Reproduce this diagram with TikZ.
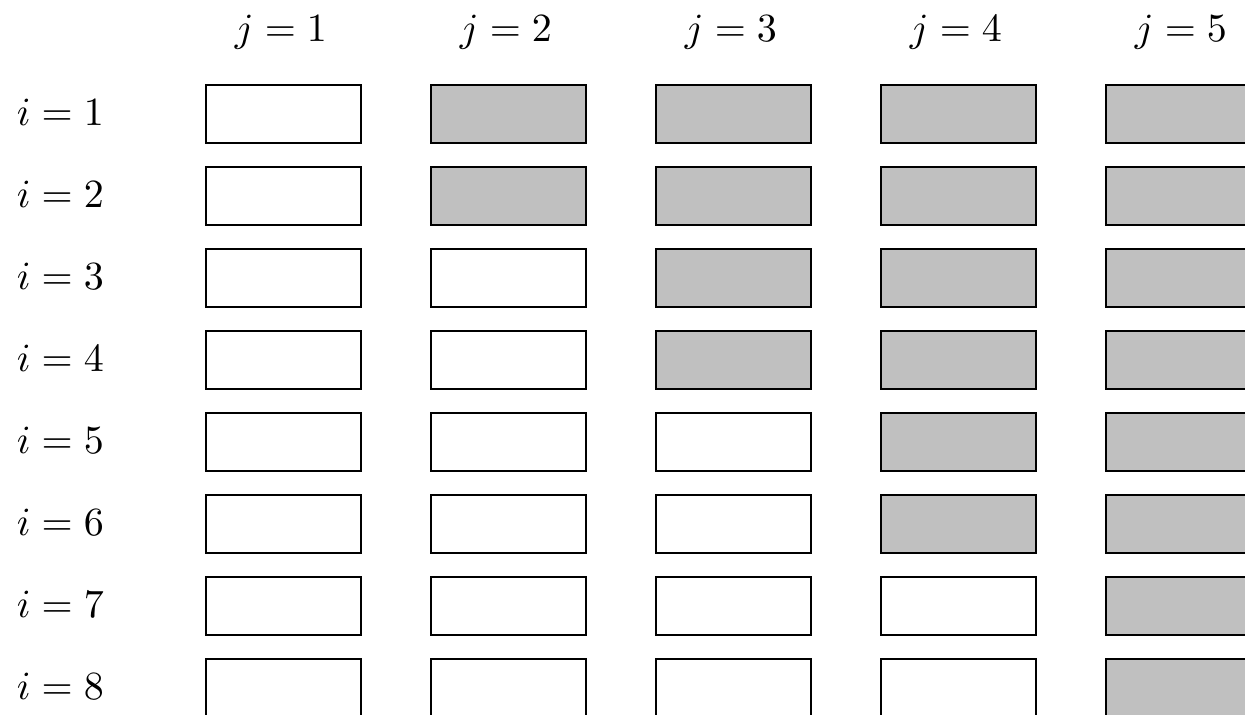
\documentclass[tikz,border=0pt]{standalone}
\definecolor{cellgray}{RGB}{192,192,192}
\begin{document}
\begin{tikzpicture}[x=0.25pt,y=-0.25pt,
  cell/.style={draw=black,line width=0.4pt,minimum width=155*0.25pt,minimum height=58*0.25pt,inner sep=0pt,anchor=north west,fill=white},
  shaded/.style={cell,fill=cellgray},
  collabel/.style={anchor=base,inner sep=0pt},
  rowlabel/.style={anchor=base west,inner sep=0pt}]
\useasboundingbox (0,0) rectangle (1245,715);
\clip (0,0) rectangle (1245,715);
\foreach \j/\x in {1/205,2/430,3/655,4/880,5/1105}{
  \node[collabel] (j\j) at (\x+76,42) {$j=\j$};
}
\foreach \i in {1,...,8}{
  \pgfmathsetmacro{\yt}{84+82*(\i-1)}
  \node[rowlabel] (i\i) at (16,\yt+42) {$i=\i$};
  \foreach \j/\x in {1/205,2/430,3/655,4/880,5/1105}{
    \pgfmathtruncatemacro{\lim}{ceil(\i/2)}
    \ifnum\j>\lim
      \node[shaded] (c\i-\j) at (\x,\yt) {};
    \else
      \node[cell] (c\i-\j) at (\x,\yt) {};
    \fi
  }
}
\end{tikzpicture}
\end{document}
